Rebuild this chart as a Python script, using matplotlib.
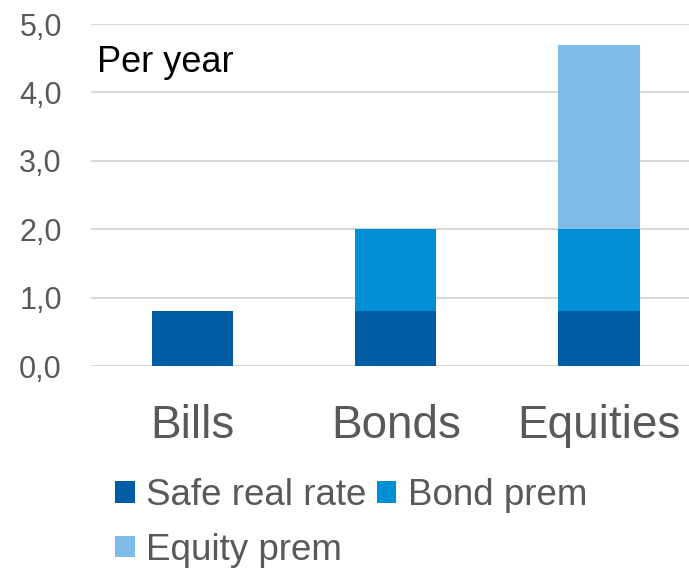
import matplotlib
matplotlib.use("Agg")
import matplotlib.pyplot as plt
import numpy as np

plt.rcParams['font.family'] = ['Liberation Sans', 'DejaVu Sans']

categories = ["Bills", "Bonds", "Equities"]
safe_real_rate = [0.8, 0.8, 0.8]
bond_prem = [0.0, 1.2, 1.2]
equity_prem = [0.0, 0.0, 2.7]
series_names = ["Safe real rate", "Bond prem", "Equity prem"]
yticks = [0, 1, 2, 3, 4, 5]
ytick_labels = ["0,0", "1,0", "2,0", "3,0", "4,0", "5,0"]

c_safe = "#005CA5"
c_bond = "#008FD4"
c_eq = "#7FBDE8"
grey = "#595959"

fig = plt.figure(figsize=(6.89, 5.69), dpi=100)
W, H = 689, 569
ax = fig.add_axes([91 / W, (H - 366) / H, (689 - 91) / W, (366 - 24) / H])

x = np.arange(len(categories))
width = 0.4
s = np.array(safe_real_rate)
b = np.array(bond_prem)
e = np.array(equity_prem)
mask_b = b > 0
mask_e = e > 0
h1 = ax.bar(x, s, width, color=c_safe, label=series_names[0], zorder=3)
h2 = ax.bar(x[mask_b], b[mask_b], width, bottom=s[mask_b], color=c_bond,
            label=series_names[1], zorder=3)
h3 = ax.bar(x[mask_e], e[mask_e], width, bottom=(s + b)[mask_e], color=c_eq,
            label=series_names[2], zorder=3)

ax.set_xlim(-0.5, 2.443)
ax.set_ylim(0, 5)
ax.set_yticks(yticks)
ax.set_yticklabels(ytick_labels, fontsize=22, color=grey)
ax.set_xticks(x)
ax.set_xticklabels(categories, fontsize=33, color=grey)
ax.tick_params(axis='y', length=0, pad=21)
ax.tick_params(axis='x', length=0, pad=27)
for sp in ax.spines.values():
    sp.set_visible(False)
ax.yaxis.grid(True, color="#D9D9D9", linewidth=1.5, zorder=0)
ax.set_axisbelow(True)

fig.text(97 / W, 1 - 72 / H, "Per year", fontsize=26, color="black",
         ha="left", va="baseline")

leg = fig.legend([h1, h3, h2], [series_names[0], series_names[2], series_names[1]],
                 ncol=2, loc="upper left", bbox_to_anchor=(115 / W, 1 - 478 / H),
                 frameon=False, fontsize=26.5, handlelength=0.53, handleheight=0.53,
                 handletextpad=0.3, columnspacing=0.3, labelspacing=0.53,
                 borderpad=0, borderaxespad=0)
for t in leg.get_texts():
    t.set_color(grey)

fig.savefig("out.png", dpi=100)
